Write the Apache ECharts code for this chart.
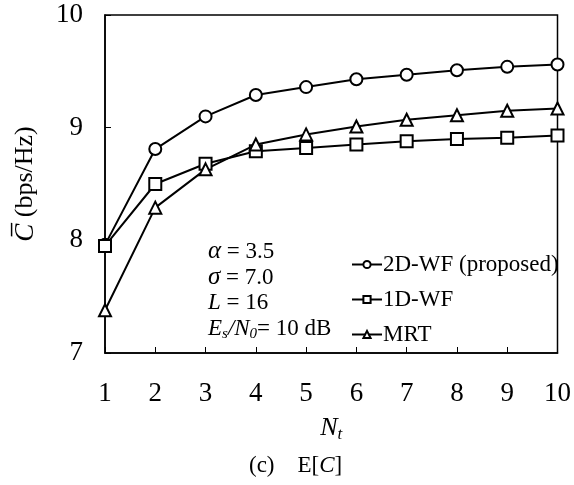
<!DOCTYPE html>
<html>
<head>
<meta charset="utf-8">
<script src="https://cdn.jsdelivr.net/npm/echarts@6/dist/echarts.min.js"></script>
<style>html,body{margin:0;padding:0;background:#fff}#c{width:574px;height:485px}</style>
</head>
<body>
<div id="c"></div>
<script>
const Nt = [1, 2, 3, 4, 5, 6, 7, 8, 9, 10];
const wf2d = [7.96, 8.81, 9.10, 9.29, 9.36, 9.43, 9.47, 9.51, 9.54, 9.56];
const wf1d = [7.95, 8.50, 8.68, 8.79, 8.82, 8.85, 8.88, 8.90, 8.91, 8.93];
const mrt  = [7.38, 8.29, 8.63, 8.85, 8.94, 9.01, 9.07, 9.11, 9.15, 9.17];
const yTicks = [7, 8, 9, 10];
const xTicks = [1, 2, 3, 4, 5, 6, 7, 8, 9, 10];

const F = 'Liberation Serif, Times New Roman, serif';
const chart = echarts.init(document.getElementById('c'), null, {renderer: 'canvas'});
const zip = (a) => Nt.map((x, i) => [x, a[i]]);
const mk = (name, data, symbol) => ({
  name, type: 'line', data: zip(data), symbol, symbolSize: 12,
  lineStyle: {color: '#000', width: 2},
  itemStyle: {color: '#000', borderColor: '#000', borderWidth: 1.2},
  emphasis: {disabled: true}, animation: false, z: 3
});
chart.setOption({
  animation: false,
  backgroundColor: '#fff',
  grid: {left: 105, right: 15, top: 15, bottom: 132, show: true, borderColor: '#000', borderWidth: 1.5, backgroundColor: 'transparent'},
  xAxis: {
    type: 'value', min: 1, max: 10, interval: 1,
    axisLine: {lineStyle: {color: '#000', width: 1.5}},
    axisTick: {inside: true, length: 6, lineStyle: {color: '#000'}},
    axisLabel: {color: '#000', fontFamily: F, fontSize: 27, margin: 27,
      formatter: (v) => xTicks.includes(v) ? String(v) : ''},
    splitLine: {show: false},
    name: '{i|N}{s|t}', nameLocation: 'middle', nameGap: 60,
    nameTextStyle: {fontFamily: F, fontSize: 26, color: '#000', rich: {
      i: {fontFamily: F, fontStyle: 'italic', fontSize: 26, color: '#000'},
      s: {fontFamily: F, fontStyle: 'italic', fontSize: 17, color: '#000', verticalAlign: 'bottom', padding: [13, 0, 0, 0]}
    }}
  },
  yAxis: {
    type: 'value', min: 7, max: 10, interval: 1,
    axisLine: {lineStyle: {color: '#000', width: 1.5}},
    axisTick: {inside: true, length: 6, lineStyle: {color: '#000'}},
    axisLabel: {color: '#000', fontFamily: F, fontSize: 27, margin: 22,
      formatter: (v) => yTicks.includes(v) ? String(v) : ''},
    splitLine: {show: false},
    name: '{i|C\u0305} (bps/Hz)', nameLocation: 'middle', nameGap: 66, nameRotate: 90,
    nameTextStyle: {fontFamily: F, fontSize: 26, color: '#000', rich: {
      i: {fontFamily: F, fontStyle: 'italic', fontSize: 27, color: '#000'}
    }}
  },
  legend: {
    orient: 'vertical', left: 346, top: 248, itemWidth: 30, itemHeight: 9, itemGap: 12,
    textStyle: {fontFamily: F, fontSize: 23, color: '#000', lineHeight: 23, padding: [0, 0, 0, -4]},
    data: ['2D-WF (proposed)', '1D-WF', 'MRT'],
    selectedMode: false
  },
  title: {
    text: '(c)    E[{i|C}]', left: 244, top: 449,
    textStyle: {fontFamily: F, fontSize: 23, fontWeight: 'normal', color: '#000',
      rich: {i: {fontFamily: F, fontStyle: 'italic', fontSize: 23, color: '#000'}}}
  },
  graphic: [
    {type: 'text', left: 208, top: 239, style: {text: '{i|\u03b1} = 3.5', font: '23px ' + F, fill: '#000',
      rich: {i: {fontFamily: F, fontStyle: 'italic', fontSize: 25}}}},
    {type: 'text', left: 208, top: 265, style: {text: '{i|\u03c3} = 7.0', font: '23px ' + F, fill: '#000',
      rich: {i: {fontFamily: F, fontStyle: 'italic', fontSize: 25}}}},
    {type: 'text', left: 208, top: 291, style: {text: '{i|L} = 16', font: '23px ' + F, fill: '#000',
      rich: {i: {fontFamily: F, fontStyle: 'italic', fontSize: 23}}}},
    {type: 'text', left: 208, top: 317, style: {text: '{i|E}{s|s}{i|/N}{s|0}= 10 dB', font: '23px ' + F, fill: '#000',
      rich: {i: {fontFamily: F, fontStyle: 'italic', fontSize: 23}, s: {fontFamily: F, fontSize: 15, fontStyle: 'italic', padding: [12, 0, 0, 0]}}}}
  ],
  series: [
    mk('2D-WF (proposed)', wf2d, 'emptyCircle'),
    mk('1D-WF', wf1d, 'emptyRect'),
    mk('MRT', mrt, 'emptyTriangle')
  ]
});
</script>
</body>
</html>
